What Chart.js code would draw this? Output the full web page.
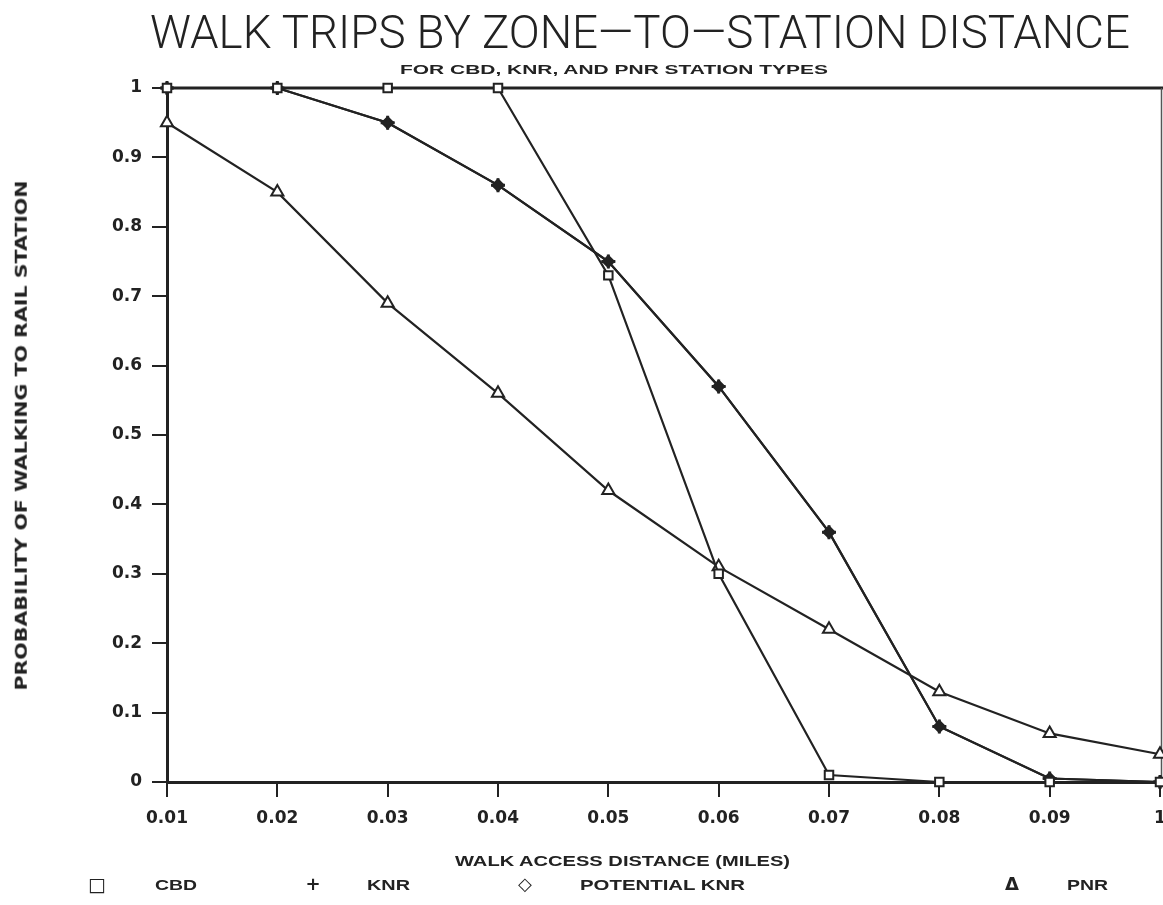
<!DOCTYPE html>
<html>
<head>
<meta charset="utf-8">
<script src="https://cdn.jsdelivr.net/npm/chart.js@4.4.1/dist/chart.umd.min.js"></script>
<style>
  html, body { margin: 0; padding: 0; background: #ffffff; overflow: hidden; }
  #wrap { position: relative; width: 1163px; height: 905px; overflow: hidden; }
  canvas { position: absolute; left: 0; top: 0; }
  .txt { position: absolute; white-space: nowrap; color: #222; line-height: 1; transform-origin: 0 50%; }
</style>
</head>
<body>
<div id="wrap">
  <canvas id="c" width="1170" height="905"></canvas>
  <div class="txt" id="title" style="font-family:Roboto,'Liberation Sans',Arial,sans-serif;font-size:46px;font-weight:300;">WALK TRIPS BY ZONE—TO—STATION DISTANCE</div>
  <div class="txt" id="subtitle" style="font-family:'Liberation Sans',Arial,sans-serif;font-size:13px;font-weight:bold;">FOR CBD, KNR, AND PNR STATION TYPES</div>
  <div class="txt" id="ytitle" style="font-family:'DejaVu Sans',sans-serif;font-size:15px;font-weight:bold;">PROBABILITY OF WALKING TO RAIL STATION</div>
  <div class="txt" id="xtitle" style="font-family:'Liberation Sans',Arial,sans-serif;font-size:15px;font-weight:bold;">WALK ACCESS DISTANCE (MILES)</div>
  <div class="txt leg" id="lg1" style="font-family:'DejaVu Sans',sans-serif;font-size:19px;font-weight:bold;">□</div>
  <div class="txt leg" id="lg2" style="font-family:'Liberation Sans',Arial,sans-serif;font-size:15px;font-weight:bold;">CBD</div>
  <div class="txt leg" id="lg3" style="font-family:'DejaVu Sans',sans-serif;font-size:18px;font-weight:bold;">+</div>
  <div class="txt leg" id="lg4" style="font-family:'Liberation Sans',Arial,sans-serif;font-size:15px;font-weight:bold;">KNR</div>
  <div class="txt leg" id="lg5" style="font-family:'DejaVu Sans',sans-serif;font-size:18px;font-weight:bold;">◇</div>
  <div class="txt leg" id="lg6" style="font-family:'Liberation Sans',Arial,sans-serif;font-size:15px;font-weight:bold;">POTENTIAL KNR</div>
  <div class="txt leg" id="lg7" style="font-family:'DejaVu Sans',sans-serif;font-size:18px;font-weight:bold;">Δ</div>
  <div class="txt leg" id="lg8" style="font-family:'Liberation Sans',Arial,sans-serif;font-size:15px;font-weight:bold;">PNR</div>
</div>
<script>
// ---- data ----
const categories = [0.01, 0.02, 0.03, 0.04, 0.05, 0.06, 0.07, 0.08, 0.09, 0.10];
const xTickLabels = ['0.01', '0.02', '0.03', '0.04', '0.05', '0.06', '0.07', '0.08', '0.09', '1'];
const yTickValues = [0, 0.1, 0.2, 0.3, 0.4, 0.5, 0.6, 0.7, 0.8, 0.9, 1];
const yTickLabels = ['0', '0.1', '0.2', '0.3', '0.4', '0.5', '0.6', '0.7', '0.8', '0.9', '1'];
const cbd = [1, 1, 1, 1, 0.73, 0.30, 0.01, 0, 0, 0];
const knr = [1, 1, 0.95, 0.86, 0.75, 0.57, 0.36, 0.08, 0.005, 0];
const potentialKnr = [1, 1, 0.95, 0.86, 0.75, 0.57, 0.36, 0.08, 0.005, 0];
const pnr = [0.95, 0.85, 0.69, 0.56, 0.42, 0.31, 0.22, 0.13, 0.07, 0.04];
const seriesNames = ['CBD', 'KNR', 'POTENTIAL KNR', 'PNR'];

const INK = '#222222';

// frame on top / right of plot area
const framePlugin = {
  id: 'frame',
  beforeDatasetsDraw(chart) {
    const {ctx, chartArea: a} = chart;
    ctx.save();
    ctx.strokeStyle = INK;
    ctx.lineWidth = 3;
    ctx.beginPath();
    ctx.moveTo(a.left, a.top);
    ctx.lineTo(a.right + 4, a.top);
    ctx.stroke();
    ctx.lineWidth = 1.5;
    ctx.strokeStyle = '#555';
    ctx.beginPath();
    ctx.moveTo(a.right + 1.5, a.top);
    ctx.lineTo(a.right + 1.5, a.bottom);
    ctx.stroke();
    ctx.restore();
  }
};

const common = {
  borderColor: INK,
  borderWidth: 2.2,
  pointBorderColor: INK,
  tension: 0,
  clip: false
};

const tickFont = { family: "'DejaVu Sans', sans-serif", size: 17, weight: 'bold' };

const chart = new Chart(document.getElementById('c'), {
  type: 'line',
  data: {
    labels: xTickLabels,
    datasets: [
      Object.assign({}, common, {
        label: seriesNames[0], data: cbd,
        pointStyle: 'rect', pointRadius: 6, pointBackgroundColor: '#fff', pointBorderWidth: 2
      }),
      Object.assign({}, common, {
        label: seriesNames[1], data: knr,
        pointStyle: 'cross', pointRadius: 7, pointBackgroundColor: INK, pointBorderWidth: 3
      }),
      Object.assign({}, common, {
        label: seriesNames[2], data: potentialKnr,
        pointStyle: 'rectRot', pointRadius: 6, pointBackgroundColor: INK, pointBorderWidth: 1.5
      }),
      Object.assign({}, common, {
        label: seriesNames[3], data: pnr,
        pointStyle: 'triangle', pointRadius: 7, pointBackgroundColor: '#fff', pointBorderWidth: 2
      })
    ]
  },
  options: {
    responsive: false,
    animation: false,
    layout: { padding: { left: 0, right: 3, top: 88, bottom: 73 } },
    plugins: { legend: { display: false }, title: { display: false }, tooltip: { enabled: false } },
    scales: {
      x: {
        type: 'category',
        offset: false,
        afterFit(scale) { scale.height = 50; scale.paddingRight = 0; scale.paddingLeft = 0; },
        grid: { display: true, drawOnChartArea: false, drawTicks: true, tickLength: 15, color: INK, lineWidth: 2 },
        border: { display: true, color: INK, width: 3 },
        ticks: {
          autoSkip: false, maxRotation: 0, padding: 11, color: INK,
          font: tickFont
        }
      },
      y: {
        min: 0, max: 1,
        afterFit(scale) { scale.width = 167; scale.paddingTop = 0; scale.paddingBottom = 0; },
        afterBuildTicks(scale) { scale.ticks = yTickValues.map(v => ({ value: v })); },
        grid: { display: true, drawOnChartArea: false, drawTicks: true, tickLength: 15, color: INK, lineWidth: 2 },
        border: { display: true, color: INK, width: 3 },
        ticks: {
          padding: 10, color: INK,
          font: tickFont,
          callback(value, index) { return yTickLabels[index]; }
        }
      }
    }
  },
  plugins: [framePlugin]
});

// ---- place text elements: (left, right, centerY) ----
function place(id, left, right, cy) {
  const el = document.getElementById(id);
  const w = el.getBoundingClientRect().width;
  const h = el.getBoundingClientRect().height;
  const s = (right - left) / w;
  el.style.left = left + 'px';
  el.style.top = (cy - h / 2) + 'px';
  el.style.transform = 'scaleX(' + s + ')';
}
place('title', 150, 1130, 32);
place('subtitle', 400, 828, 69);
place('xtitle', 455, 790, 860);
place('lg2', 155, 197, 884);
place('lg4', 367, 410, 884);
place('lg6', 580, 745, 884);
place('lg8', 1067, 1108, 884);
function placeSym(id, cx, cy) {
  const el = document.getElementById(id);
  const r = el.getBoundingClientRect();
  el.style.left = (cx - r.width / 2) + 'px';
  el.style.top = (cy - r.height / 2) + 'px';
}
placeSym('lg1', 97, 884);
placeSym('lg3', 313, 884);
placeSym('lg5', 525, 884);
placeSym('lg7', 1012, 884);
// rotated y title
(function () {
  const el = document.getElementById('ytitle');
  const r = el.getBoundingClientRect();
  const target = 510;
  const s = target / r.width;
  el.style.transformOrigin = '50% 50%';
  el.style.left = (22 - r.width / 2) + 'px';
  el.style.top = (435 - r.height / 2) + 'px';
  el.style.transform = 'rotate(-90deg) scaleX(' + s + ')';
})();
</script>
</body>
</html>
